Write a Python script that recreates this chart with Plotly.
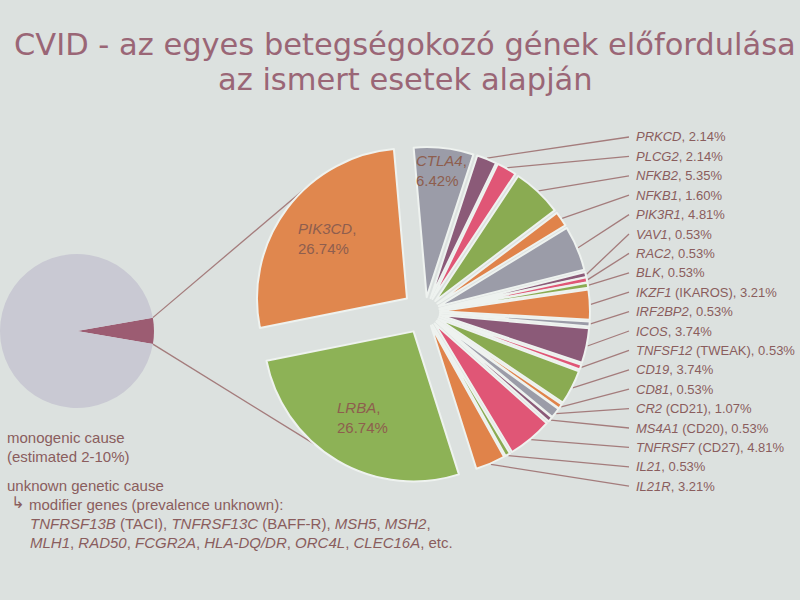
import math
import plotly.graph_objects as go

W, H = 800, 600

# ---------------- data ----------------
genes = ["CTLA4", "PRKCD", "PLCG2", "NFKB2", "NFKB1", "PIK3R1", "VAV1", "RAC2", "BLK",
         "IKZF1", "IRF2BP2", "ICOS", "TNFSF12", "CD19", "CD81", "CR2", "MS4A1",
         "TNFRSF7", "IL21", "IL21R", "LRBA", "PIK3CD"]
aliases = ["", "", "", "", "", "", "", "", "", "IKAROS", "", "", "TWEAK", "", "", "CD21",
           "CD20", "CD27", "", "", "", ""]
percent = [6.42, 2.14, 2.14, 5.35, 1.60, 4.81, 0.53, 0.53, 0.53, 3.21, 0.53, 3.74, 0.53,
           3.74, 0.53, 1.07, 0.53, 4.81, 0.53, 3.21, 26.74, 26.74]
slice_colors = ["#9b9ca8", "#8b5a78", "#e05676", "#8aab52", "#e0834a",
                "#9b9ca8", "#8b5a78", "#e05676", "#8aab52", "#e0834a",
                "#9b9ca8", "#8b5a78", "#e05676", "#8aab52", "#e0834a",
                "#9b9ca8", "#8b5a78", "#e05676", "#8aab52", "#e0834a",
                "#8db256", "#e0874e"]
inside_labels = ["CTLA4", "LRBA", "PIK3CD"]

overview_labels = ["monogenic cause", "unknown genetic cause"]
overview_values = [5.5, 94.5]
overview_colors = ["#9c5c72", "#c9c9d3"]

title_lines = ["CVID - az egyes betegségokozó gének előfordulása",
               "az ismert esetek alapján"]
note_lines = ["monogenic cause", "(estimated 2-10%)", "unknown genetic cause",
              "modifier genes (prevalence unknown):",
              "<i>TNFRSF13B</i> (TACI), <i>TNFRSF13C</i> (BAFF-R), <i>MSH5</i>, <i>MSH2</i>,",
              "<i>MLH1</i>, <i>RAD50</i>, <i>FCGR2A</i>, <i>HLA-DQ/DR</i>, <i>ORC4L</i>, <i>CLEC16A</i>, etc."]

# ---------------- layout geometry (pixels) ----------------
BG = "#dce1df"
TXT = "#8a5d5d"
LINE = "#a47c7c"
CX, CY, R = 425.0, 312.0, 150.0
ROT = -5
pulls = [0.15 if g in ("LRBA", "PIK3CD") else 0.10 for g in genes]
MAXP = max(pulls)
half = R * (1 + MAXP)
LCX, LCY, LR = 77.0, 331.0, 77.0
L_ROT = 80


def px(x):
    return x / W


def py(y):
    return 1 - y / H


def pt(cx, cy, r, ang):
    a = math.radians(ang)
    return cx + r * math.sin(a), cy - r * math.cos(a)


total = sum(percent)
starts, ends = [], []
acc = 0.0
for p in percent:
    starts.append(ROT + 360 * acc / total)
    acc += p
    ends.append(ROT + 360 * acc / total)
mids = [(s + e) / 2 for s, e in zip(starts, ends)]

fig = go.Figure()

# overview pie (left)
fig.add_trace(go.Pie(
    labels=overview_labels, values=overview_values, sort=False, direction="clockwise",
    rotation=L_ROT, marker=dict(colors=overview_colors, line=dict(width=0)),
    textinfo="none", hoverinfo="label", showlegend=False,
    domain=dict(x=[px(LCX - LR), px(LCX + LR)], y=[py(LCY + LR), py(LCY - LR)])))

# detail pie
fig.add_trace(go.Pie(
    labels=genes, values=percent, sort=False, direction="clockwise", rotation=ROT,
    pull=pulls, marker=dict(colors=slice_colors, line=dict(color="#eef2ef", width=2)),
    textinfo="none", hoverinfo="label+text", text=[f"{p:.2f}%" for p in percent],
    showlegend=False,
    domain=dict(x=[px(CX - half), px(CX + half)], y=[py(CY + half), py(CY - half)])))

shapes = []
annotations = []

# connector lines from overview wedge to detail pie
mono_share = 360 * overview_values[0] / sum(overview_values)
ia, ib = genes.index("PIK3CD"), genes.index("LRBA")
for l_ang, k, frac in [(L_ROT, ia, 0.66), (L_ROT + mono_share, ib, 0.61)]:
    x0, y0 = pt(LCX, LCY, LR, l_ang)
    ax, ay = pt(CX, CY, R * pulls[k], mids[k])
    x1, y1 = pt(ax, ay, R, starts[k] + frac * (ends[k] - starts[k]))
    shapes.append(dict(type="line", xref="paper", yref="paper", layer="below",
                       x0=px(x0), y0=py(y0), x1=px(x1), y1=py(y1),
                       line=dict(color=LINE, width=1.3)))

# leader lines + right-hand labels
LAB_X, LAB_Y0, LAB_DY = 634.0, 137.0, 19.4
j = 0
for i, g in enumerate(genes):
    if g in inside_labels:
        continue
    ly = LAB_Y0 + LAB_DY * j
    x0, y0 = pt(CX, CY, R * (1 + pulls[i]) + 1, mids[i])
    shapes.append(dict(type="line", xref="paper", yref="paper", layer="below",
                       x0=px(x0), y0=py(y0), x1=px(LAB_X - 5), y1=py(ly),
                       line=dict(color=LINE, width=1.3)))
    name = f"<i>{g}</i>" + (f" ({aliases[i]})" if aliases[i] else "")
    annotations.append(dict(x=px(LAB_X), y=py(ly), xref="paper", yref="paper",
                            xanchor="left", yanchor="middle", showarrow=False,
                            text=f"{name}, {percent[i]:.2f}%",
                            font=dict(family="Liberation Sans", size=13, color=TXT)))
    j += 1

# inside labels
for g in inside_labels:
    i = genes.index(g)
    frac = 0.85 if g == "CTLA4" else 0.67
    ax, ay = pt(CX, CY, R * pulls[i], mids[i])
    tx, ty = pt(ax, ay, R * frac, mids[i])
    annotations.append(dict(x=px(tx), y=py(ty), xref="paper", yref="paper",
                            xanchor="center", yanchor="middle", align="left",
                            showarrow=False,
                            text=f"<i>{g}</i>,<br>{percent[i]:.2f}%",
                            font=dict(family="Liberation Sans", size=15, color="#8e5e4e")))

# title
for k, (t, y) in enumerate(zip(title_lines, [45, 80])):
    annotations.append(dict(x=px(405), y=py(y), xref="paper", yref="paper",
                            xanchor="center", yanchor="middle", showarrow=False, text=t,
                            font=dict(family="DejaVu Sans", size=30.5, color="#9a6676")))

# notes
note_pos = [(5, 437), (5, 456), (5, 485), (27, 504), (28, 523), (28, 542)]
for t, (x, y) in zip(note_lines, note_pos):
    annotations.append(dict(x=px(x), y=py(y), xref="paper", yref="paper",
                            xanchor="left", yanchor="middle", showarrow=False, text=t,
                            font=dict(family="Liberation Sans", size=15, color=TXT)))
annotations.append(dict(x=px(9), y=py(502), xref="paper", yref="paper",
                        xanchor="left", yanchor="middle", showarrow=False, text="↳",
                        font=dict(family="DejaVu Sans", size=16, color=TXT)))

fig.update_layout(width=W, height=H, margin=dict(l=0, r=0, t=0, b=0),
                  paper_bgcolor=BG, plot_bgcolor=BG,
                  shapes=shapes, annotations=annotations)

fig.write_html("out.html", config={"displayModeBar": False},
               post_script="document.body.style.margin='0';document.body.style.overflow='hidden';")
